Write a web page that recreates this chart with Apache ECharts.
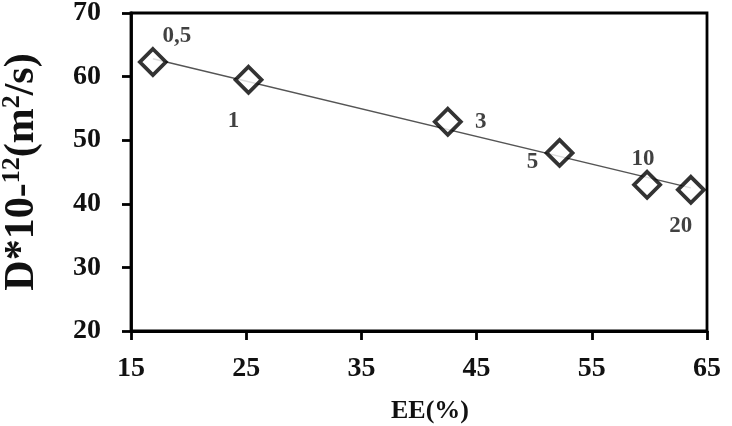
<!DOCTYPE html>
<html>
<head>
<meta charset="utf-8">
<script src="https://cdn.jsdelivr.net/npm/echarts@6/dist/echarts.min.js"></script>
<style>
  html, body { margin: 0; padding: 0; background: #fff; }
  #chart { width: 732px; height: 426px; }
</style>
</head>
<body>
<div id="chart"></div>
<script>
var eeValues = [16.9, 25.2, 42.5, 52.2, 59.8, 63.6];
var dValues = [62.3, 59.5, 52.9, 48.0, 43.0, 42.2];
var pointLabels = ['0,5', '1', '3', '5', '10', '20'];
var trendX = [16.9, 63.6];
var trendY = [62.8, 42.5];

(function() {
    var myChart = echarts.init(document.getElementById('chart'));
    var serif = '"Liberation Serif", "DejaVu Serif", serif';

    // label offsets from the diamond centre
    var labelOffset = [[24, -26], [-15, 41], [33, 0], [-27, 9], [-4, -26], [-10, 36]];

    var points = eeValues.map(function(x, i) {
        return {
            value: [x, dValues[i]],
            name: pointLabels[i],
            label: {offset: labelOffset[i]}
        };
    });

    option = {
        animation: false,
        grid: {
            left: 131, right: 25, top: 13, bottom: 95,
            containLabel: false,
            outerBoundsMode: 'none',
            show: true, borderColor: '#000', borderWidth: 2.8
        },
        xAxis: {
            type: 'value',
            min: 15, max: 65, interval: 10,
            name: 'EE(%)',
            nameLocation: 'middle',
            nameGap: 67,
            nameTextStyle: {fontFamily: serif, fontWeight: 'bold', fontSize: 26, color: '#111', padding: [0, 0, 0, 22]},
            axisLine: {show: true, lineStyle: {color: '#000', width: 2.8}},
            axisTick: {show: true, inside: false, length: 9, lineStyle: {color: '#000', width: 2.8}},
            axisLabel: {fontFamily: serif, fontWeight: 'bold', fontSize: 28, color: '#111', margin: 24},
            splitLine: {show: false}
        },
        yAxis: {
            type: 'value',
            min: 20, max: 70, interval: 10,
            name: '{b|D*10-}{s|12}{b|(m}{s|2}{b|/s)}',
            nameLocation: 'middle',
            nameGap: 88,
            nameRotate: 90,
            nameTextStyle: {
                rich: {
                    b: {fontFamily: serif, fontWeight: 'bold', fontSize: 42, color: '#111', verticalAlign: 'bottom', lineHeight: 44},
                    s: {fontFamily: serif, fontWeight: 'bold', fontSize: 26, color: '#111', verticalAlign: 'top', lineHeight: 44}
                }
            },
            axisLine: {show: true, lineStyle: {color: '#000', width: 2.8}},
            axisTick: {show: true, inside: false, length: 9, lineStyle: {color: '#000', width: 2.8}},
            axisLabel: {fontFamily: serif, fontWeight: 'bold', fontSize: 28, color: '#111', margin: 30},
            splitLine: {show: false}
        },
        series: [
            {
                type: 'line',
                data: trendX.map(function(x, i) { return [x, trendY[i]]; }),
                showSymbol: false,
                lineStyle: {color: '#555', width: 1.4},
                z: 1
            },
            {
                type: 'scatter',
                data: points,
                symbol: 'diamond',
                symbolSize: 26,
                itemStyle: {color: '#fff', borderColor: '#000', borderWidth: 3.8},
                label: {
                    show: true,
                    position: 'inside',
                    align: 'center',
                    verticalAlign: 'middle',
                    formatter: '{b}',
                    fontFamily: serif,
                    fontWeight: 'bold',
                    fontSize: 23,
                    color: '#111'
                },
                z: 3
            }
        ]
    };

    myChart.setOption(option);
    window.addEventListener('resize', function() {
        myChart.resize();
    });
})();
</script>
</body>
</html>
